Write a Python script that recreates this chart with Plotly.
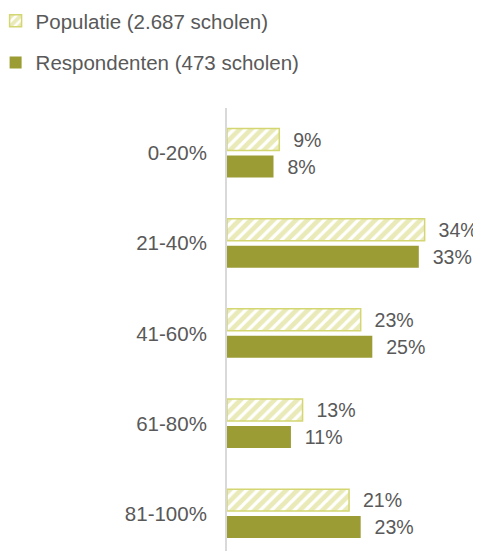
import plotly.graph_objects as go

# Share of schools per category
categories = ['0-20%', '21-40%', '41-60%', '61-80%', '81-100%']
populatie = [9, 34, 23, 13, 21]
respondenten = [8, 33, 25, 11, 23]

hatch_color = '#d4d672'
solid_color = '#9c9c34'
text_color = '#595959'
nb = '\u00a0\u00a0'

fig = go.Figure()

fig.add_trace(go.Bar(
    y=categories, x=populatie, orientation='h',
    name='Populatie (2.687 scholen)', legendgroup='pop',
    marker=dict(color='white', line=dict(color=hatch_color, width=1.5),
                pattern=dict(shape='/', fgcolor=hatch_color, bgcolor='white',
                             size=8, solidity=0.6)),
    text=[nb + f'{v}%' for v in populatie], textposition='outside',
    textfont=dict(size=20.5, color=text_color), cliponaxis=False,
))
fig.add_trace(go.Bar(
    y=categories, x=respondenten, orientation='h',
    name='Respondenten (473 scholen)', legendgroup='resp',
    marker=dict(color=solid_color, line=dict(width=0)),
    text=[nb + f'{v}%' for v in respondenten], textposition='outside',
    textfont=dict(size=20.5, color=text_color), cliponaxis=False,
))

# page has an 8px body margin, so the figure is sized 8px smaller
fig.update_layout(
    width=473, height=543,
    margin=dict(l=219, r=0, t=100, b=0, autoexpand=False),
    paper_bgcolor='white', plot_bgcolor='white',
    font=dict(family='Liberation Sans, Arial, sans-serif', size=20.5, color=text_color),
    barmode='group', bargap=0.402, bargroupgap=0.185,
    showlegend=True,
    legend=dict(x=-0.911, y=1.2415, xanchor='left', yanchor='top',
                traceorder='grouped', tracegroupgap=12,
                font=dict(size=20.5, color=text_color)),
    xaxis=dict(range=[0, 43.7], visible=False),
    yaxis=dict(categoryorder='array', categoryarray=categories,
               range=[4.415, -0.5], showline=True, linecolor='#d9d9d9',
               linewidth=2, showgrid=False, zeroline=False, ticks='',
               ticklabelstandoff=14, tickfont=dict(size=20.5, color=text_color)),
)

fig.write_html('out.html')
